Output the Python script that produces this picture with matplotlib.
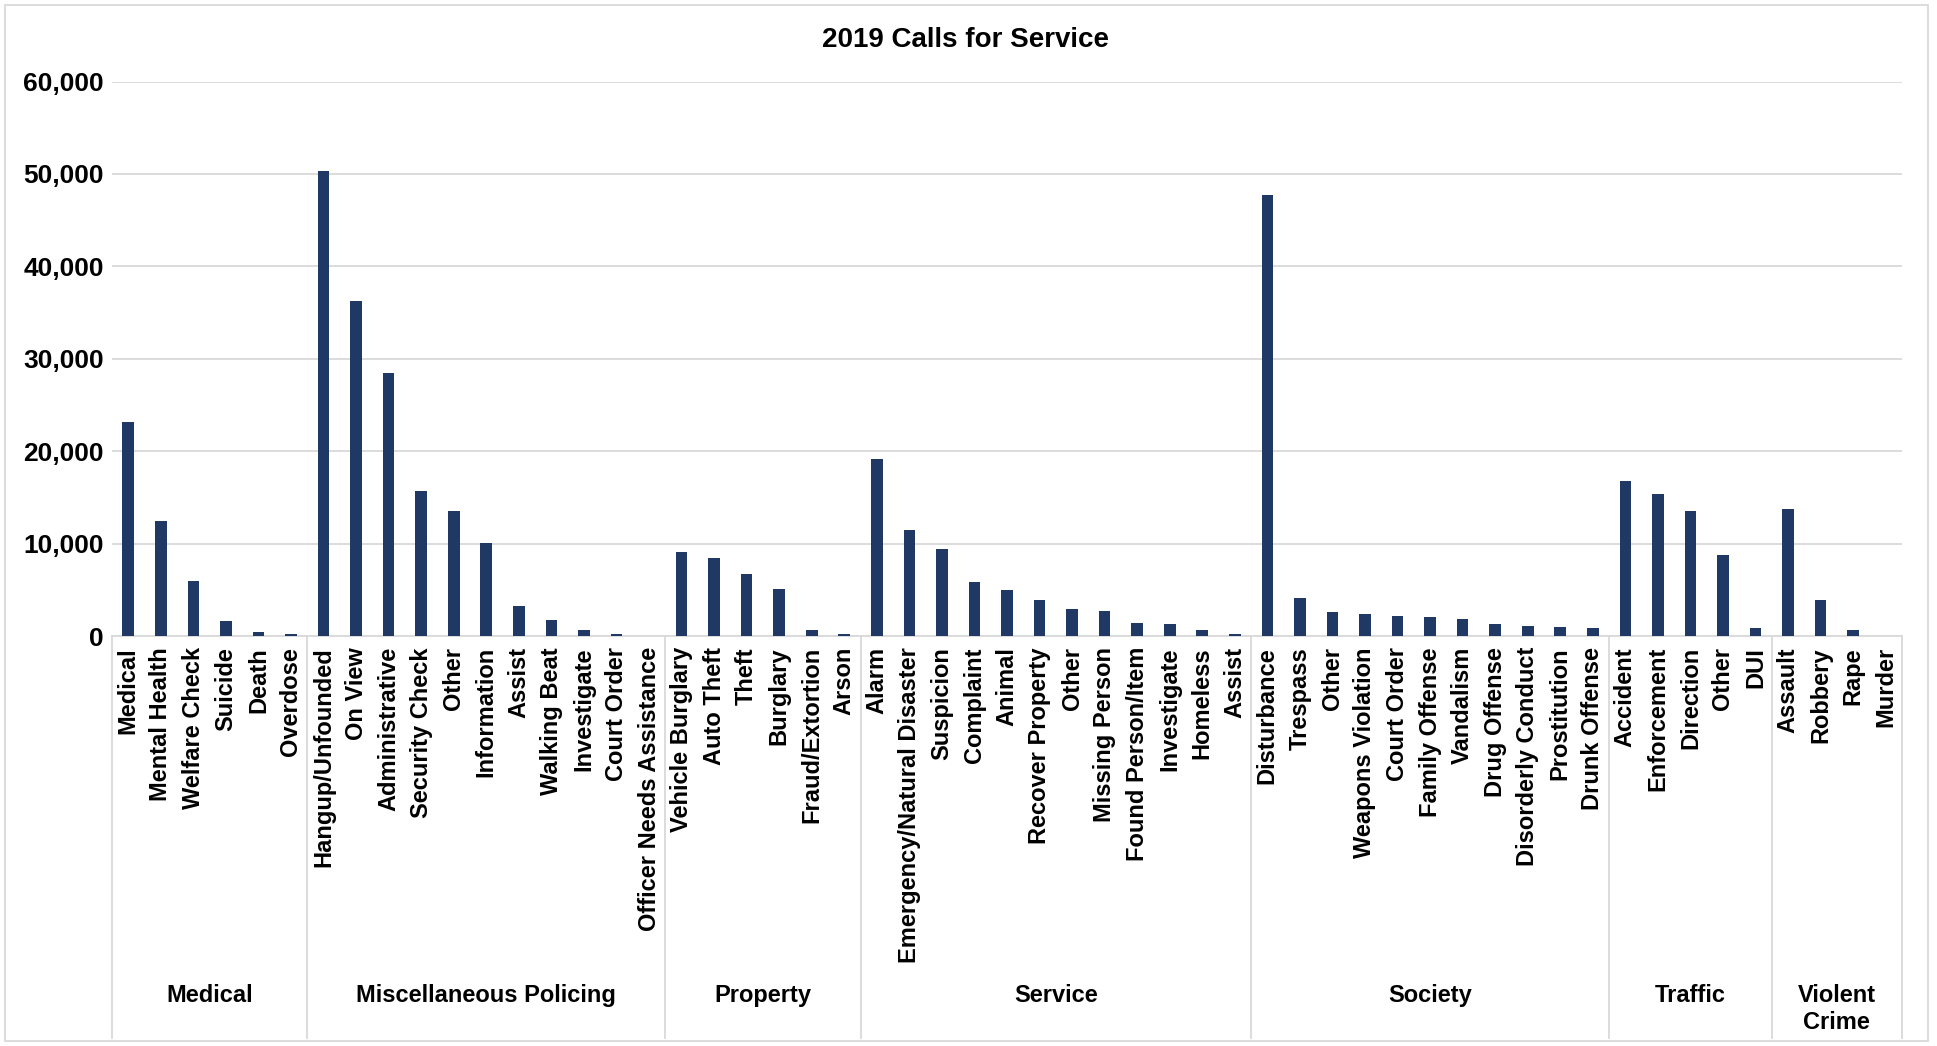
import numpy as np
import matplotlib
matplotlib.use("Agg")
import matplotlib.pyplot as plt
from matplotlib.patches import Rectangle
from matplotlib.ticker import StrMethodFormatter

plt.rcParams['font.family'] = ['Liberation Sans', 'DejaVu Sans']

groups = ["Medical", "Miscellaneous Policing", "Property", "Service",
          "Society", "Traffic", "Violent\nCrime"]

medical = ["Medical", "Mental Health", "Welfare Check", "Suicide", "Death", "Overdose"]
medical_vals = [23200, 12400, 5900, 1600, 460, 200]

misc = ["Hangup/Unfounded", "On View", "Administrative", "Security Check", "Other",
        "Information", "Assist", "Walking Beat", "Investigate", "Court Order",
        "Officer Needs Assistance"]
misc_vals = [50300, 36300, 28500, 15700, 13500, 10100, 3200, 1700, 640, 230, 30]

prop = ["Vehicle Burglary", "Auto Theft", "Theft", "Burglary", "Fraud/Extortion", "Arson"]
prop_vals = [9050, 8450, 6760, 5070, 600, 270]

service = ["Alarm", "Emergency/Natural Disaster", "Suspicion", "Complaint", "Animal",
           "Recover Property", "Other", "Missing Person", "Found Person/Item",
           "Investigate", "Homeless", "Assist"]
service_vals = [19100, 11500, 9370, 5850, 4980, 3880, 2880, 2740, 1370, 1280, 690, 180]

society = ["Disturbance", "Trespass", "Other", "Weapons Violation", "Court Order",
           "Family Offense", "Vandalism", "Drug Offense", "Disorderly Conduct",
           "Prostitution", "Drunk Offense"]
society_vals = [47700, 4100, 2650, 2420, 2190, 2100, 1870, 1330, 1050, 960, 820]

traffic = ["Accident", "Enforcement", "Direction", "Other", "DUI"]
traffic_vals = [16800, 15400, 13500, 8800, 820]

violent = ["Assault", "Robbery", "Rape", "Murder"]
violent_vals = [13700, 3900, 640, 25]

cat_lists = [medical, misc, prop, service, society, traffic, violent]
val_lists = [medical_vals, misc_vals, prop_vals, service_vals, society_vals,
             traffic_vals, violent_vals]

labels = [c for lst in cat_lists for c in lst]
values = [v for lst in val_lists for v in lst]
sizes = [len(lst) for lst in cat_lists]

W, H = 1937, 1046
fig = plt.figure(figsize=(W / 100, H / 100), dpi=100)
ax = fig.add_axes([112 / W, 1 - 636 / H, (1902 - 112) / W, (636 - 81.5) / H])

x = np.arange(len(labels))
ax.bar(x, values, width=0.36, color="#1f3864", zorder=3)

ax.set_xlim(-0.5, len(labels) - 0.5)
ax.set_ylim(0, 60000)
ax.set_yticks(np.arange(0, 60001, 10000))
ax.yaxis.set_major_formatter(StrMethodFormatter("{x:,.0f}"))
ax.grid(axis="y", color="#d9d9d9", linewidth=1.3, zorder=0)
ax.tick_params(axis="y", length=0, pad=6, labelsize=19)
for t in ax.get_yticklabels():
    t.set_fontweight("bold")

ax.set_xticks(x)
ax.set_xticklabels(labels, rotation=90, fontsize=17, fontweight="bold", va="top", ha="center")
ax.tick_params(axis="x", length=0, pad=8)

for s in ["top", "right", "left"]:
    ax.spines[s].set_visible(False)
ax.spines["bottom"].set_color("#d9d9d9")
ax.spines["bottom"].set_linewidth(1.3)

# group separators and group names
bottom = -(1038 - 636) / (636 - 81.5)
label_y = -(984 - 636) / (636 - 81.5)
trans = ax.get_xaxis_transform()
start = 0
edges = [-0.5]
for g, n in zip(groups, sizes):
    end = start + n
    edges.append(end - 0.5)
    ax.text((start + end - 1) / 2, label_y, g, transform=trans, ha="center", va="top",
            fontsize=17, fontweight="bold", linespacing=1.2)
    start = end
for e in edges:
    ax.plot([e, e], [0, bottom], transform=trans, color="#d9d9d9", linewidth=1.3, clip_on=False)

fig.text(966 / W, 1 - 40 / H, "2019 Calls for Service", ha="center", va="center",
         fontsize=20, fontweight="bold")

fig.patches.append(Rectangle((5 / W, 5 / H), (1928 - 5) / W, (1041 - 5) / H,
                             transform=fig.transFigure, fill=False,
                             edgecolor="#d9d9d9", linewidth=1.3))

fig.savefig("out.png", dpi=100)
